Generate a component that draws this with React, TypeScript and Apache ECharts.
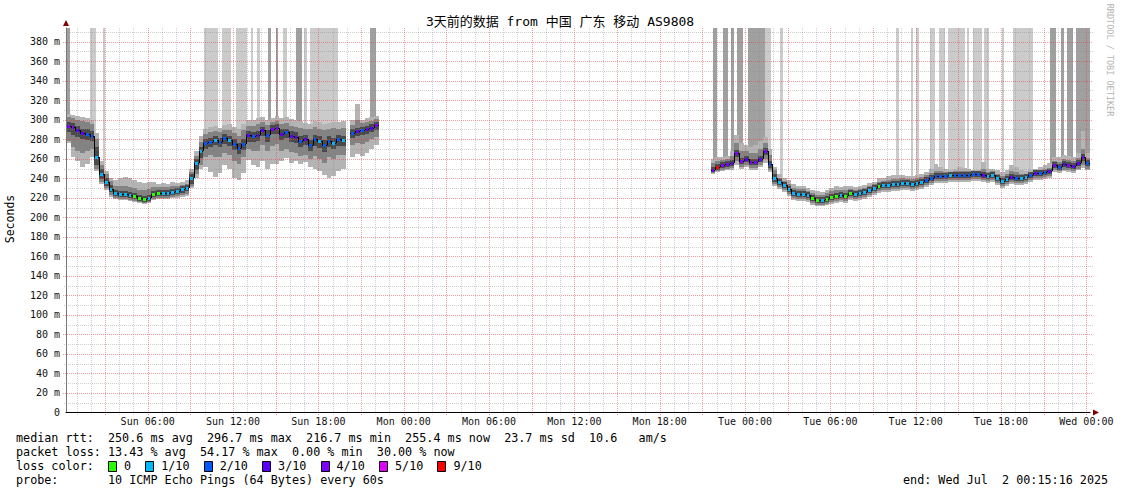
import React, { useEffect, useRef } from "react";
import * as echarts from "echarts";

// ---------- time base: hours since Sun 00:00 ----------
const START_HOUR = 0.2544; // Sun 00:15:16
const END_HOUR = 72.2544; // Wed 00:15:16
const BIN_HOURS = 1 / 3; // 20-minute consolidation step
const Y_MAX = 394;

// ---------- texts ----------
const title = "3天前的数据 from 中国 广东 移动 AS9808";
const yAxisName = "Seconds";
const watermark = "RRDTOOL / TOBI OETIKER";
const dayNames = ["Sun", "Mon", "Tue", "Wed"];
const xLabelHours = [6, 12, 18, 24, 30, 36, 42, 48, 54, 60, 66, 72];
const yLabelValues = [0, 20, 40, 60, 80, 100, 120, 140, 160, 180, 200, 220, 240, 260, 280, 300, 320, 340, 360, 380];
const statsRtt = "median rtt:  250.6 ms avg  296.7 ms max  216.7 ms min  255.4 ms now  23.7 ms sd  10.6   am/s";
const statsLoss = "packet loss: 13.43 % avg  54.17 % max  0.00 % min  30.00 % now";
const lossLegendTitle = "loss color:";
const lossLegendLabels = ["0", "1/10", "2/10", "3/10", "4/10", "5/10", "9/10"];
const lossLegendColors = ["#26ff00", "#00b8ff", "#0059ff", "#5e00ff", "#7e00ff", "#dd00ff", "#ff0000"];
const probeText = "probe:       10 ICMP Echo Pings (64 Bytes) every 60s";
const endText = "end: Wed Jul  2 00:15:16 2025";

// ---------- segment 1 (bins 0..65, Sun 00:15 - Sun 22:15) ----------
const seg1First = 0;
const med1 = [294,293,289,286,285,283,262,244,236,229,
  225,224,224,223,222,220,219,220,224,225,
  225,225,226,227,229,230,240,256,268,276,
  277,279,277,281,279,275,271,275,284,283,
  284,289,284,291,292,285,287,283,282,278,
  280,274,280,278,274,278,276,280,279,null,
  286,288,289,290,292,295];
const loss1 = [4,4,3,3,2,2,1,1,1,1,
  1,1,1,1,0,0,0,1,0,0,
  1,1,1,1,1,1,1,1,1,2,
  2,1,2,2,1,2,2,2,3,2,
  3,3,2,4,4,3,2,3,3,2,
  3,2,2,1,2,2,1,2,1,null,
  2,3,2,3,3,4];
const outerHi1 = [306,305,304,303,302,300,286,258,247,240,
  238,240,241,240,238,236,235,236,236,234,
  235,234,236,235,236,238,250,268,283,291,
  293,294,292,295,296,293,290,296,300,300,
  302,303,300,302,304,302,303,301,300,299,
  297,296,299,298,296,297,298,298,299,null,
  300,316,300,302,303,304];
const midHi1 = [303,302,300,299,298,296,280,254,244,237,
  232,232,232,231,230,228,228,229,231,231,
  231,231,232,232,233,234,246,263,277,285,
  287,288,287,289,289,286,283,289,294,294,
  296,298,295,298,299,296,297,294,293,292,
  290,290,293,291,289,291,292,291,292,null,
  295,300,297,298,299,301];
const coreHi1 = [298,297,294,291,290,288,272,250,240,233,
  228,227,227,226,225,223,222,223,227,228,
  228,228,229,230,232,233,244,260,272,280,
  281,283,281,285,283,280,276,280,288,287,
  288,293,289,295,296,290,291,288,287,283,
  284,279,284,283,279,283,281,284,283,null,
  290,292,293,294,296,298];
const coreLo1 = [287,284,282,280,279,278,254,239,232,226,
  222,221,221,220,219,217,216,217,221,222,
  222,222,223,224,225,227,234,249,261,270,
  272,274,272,275,273,269,265,269,277,277,
  278,283,277,285,285,279,281,277,276,272,
  274,268,273,271,267,272,270,273,273,null,
  281,283,284,285,287,289];
const midLo1 = [278,272,268,266,268,270,250,236,230,223,
  220,219,219,218,217,216,215,216,219,220,
  220,220,221,222,223,224,232,244,254,262,
  264,262,262,266,264,258,255,262,270,268,
  268,274,268,273,275,268,270,267,266,263,
  264,260,263,260,256,262,260,264,264,null,
  274,276,275,277,280,282];
const outerLo1 = [276,262,258,252,255,262,247,234,228,221,
  219,218,218,217,216,215,214,215,218,219,
  219,219,220,220,221,222,230,240,250,252,
  246,241,245,254,250,240,238,245,259,254,
  252,258,250,255,255,258,261,256,258,255,
  257,252,250,247,243,240,242,247,250,null,
  262,265,263,266,270,274];

// ---------- segment 2 (bins 136..215, Mon 21:35 - Wed 00:15) ----------
const seg2First = 136;
const med2 = [249,252,254,255,256,266,258,260,257,257,
  260,268,255,240,236,233,229,225,224,224,
  223,220,218,218,219,221,222,223,222,225,
  224,225,226,228,230,232,233,233,234,234,
  235,235,234,235,236,238,240,242,242,242,
  243,243,243,243,243,244,244,243,242,243,
  240,237,239,241,240,240,241,243,245,245,
  246,247,254,252,255,254,253,256,262,256];
const loss2 = [4,9,4,4,3,4,4,3,4,4,
  3,4,2,1,1,1,1,1,1,1,
  1,0,0,1,0,0,0,1,0,0,
  1,1,1,1,1,0,1,1,1,1,
  1,1,1,1,1,2,2,2,2,2,
  1,2,2,2,2,2,2,3,1,1,
  1,1,1,3,2,1,1,2,3,2,
  2,3,4,2,3,4,3,3,4,2];
const outerHi2 = [260,262,262,263,268,284,276,274,272,274,
  278,282,270,252,244,240,238,234,232,232,
  230,228,227,226,228,230,232,231,232,232,
  231,232,233,235,236,240,240,242,243,243,
  243,242,242,243,244,246,250,255,252,250,
  249,250,252,251,250,249,249,257,250,250,
  248,246,249,254,252,248,247,249,250,252,
  254,256,262,262,264,263,262,266,288,266];
const midHi2 = [256,258,259,260,263,276,268,268,266,266,
  270,276,264,248,240,237,234,230,229,229,
  227,225,223,223,225,227,228,228,228,229,
  228,229,230,232,234,236,237,238,239,239,
  240,239,239,240,241,243,245,247,247,246,
  246,247,247,247,247,247,247,250,246,247,
  244,242,244,247,246,244,244,246,248,249,
  250,251,258,257,260,259,258,261,270,261];
const coreHi2 = [252,255,257,258,259,269,261,263,260,260,
  263,271,258,244,239,236,232,228,227,227,
  226,223,221,221,222,224,225,226,225,228,
  227,228,229,231,233,235,236,236,237,237,
  238,238,237,238,239,241,243,245,245,245,
  246,246,246,246,246,247,247,246,245,246,
  243,240,242,244,243,243,244,246,248,248,
  249,250,257,255,258,257,256,259,265,259];
const coreLo2 = [246,249,251,252,253,262,255,257,254,254,
  257,264,251,236,233,230,226,222,221,221,
  220,217,215,215,216,218,219,220,219,222,
  221,222,223,225,227,229,230,230,231,231,
  232,232,231,232,233,235,237,239,239,239,
  240,240,240,240,240,241,241,240,239,240,
  237,234,236,238,237,237,238,240,242,242,
  243,244,251,249,252,251,250,253,258,253];
const midLo2 = [245,247,249,250,251,258,252,254,251,251,
  254,260,248,234,231,228,224,220,219,219,
  218,215,213,213,214,216,217,218,217,220,
  219,220,221,223,225,227,228,228,229,229,
  230,230,229,230,231,233,235,237,237,237,
  238,238,238,238,238,239,239,238,237,238,
  235,232,234,236,235,235,236,238,240,240,
  241,242,248,247,249,248,247,250,254,250];
const outerLo2 = [244,246,247,248,249,254,250,252,249,249,
  252,256,246,232,229,226,222,218,217,217,
  216,213,212,212,213,214,215,216,215,218,
  217,218,219,221,223,225,226,226,227,227,
  228,228,227,228,229,231,233,235,235,235,
  236,236,236,236,236,237,237,236,235,236,
  233,230,232,234,233,233,234,236,238,238,
  239,240,246,245,247,246,245,248,251,248];

// ---------- smoke reaching the top of the graph: [start hour, end hour] ----------
const spikesLight = [[1.94,2.36],[2.85,3.03],[9.96,10.94],[11.22,11.86],[12.21,12.98],[13.26,13.40],[13.68,13.89],
  [15.51,15.79],[16.99,17.20],[17.41,19.38],[49.41,49.83],[50.45,50.67],[58.61,58.82],[59.67,59.81],
  [60.02,60.23],[61.00,61.35],[61.64,62.06],[62.27,63.46],[63.60,63.74],[64.02,64.66],[64.80,65.15],
  [66.06,66.20],[66.84,68.25]];
const spikesDark = [[0.25,0.54],[14.46,14.67],[15.02,15.16],[16.42,16.85],[21.63,22.05],[45.74,46.02],
  [46.45,46.80],[47.01,47.22],[47.43,47.86],[48.21,49.41],[69.44,69.86],[70.21,70.42],[70.63,71.05],
  [71.27,72.25]];

// ---------- styles ----------
const MONO = "'DejaVu Sans Mono', monospace";
const TITLE_FONT = "'DejaVu Sans Mono', 'Noto Sans CJK SC', monospace";
const SMOKE_OUTER = "#b4b4b4";
const SMOKE_MID = "#838383";
const SMOKE_CORE = "#4a4a4a";
const SPIKE_LIGHT = "#cbcbcb";
const SPIKE_DARK = "#a0a0a0";
const GRID_MINOR = "rgba(140,140,140,0.42)";
const GRID_MAJOR = "rgba(235,60,60,0.5)";

function lossColor(l: number): string {
  if (l >= 9) return "#ff0000";
  if (l >= 5) return "#dd00ff";
  return ["#26ff00", "#00b8ff", "#0059ff", "#5e00ff", "#7e00ff"][l];
}

function fmtHour(v: number): string {
  const h = Math.round(v);
  const day = Math.floor(h / 24);
  const hh = h % 24;
  return `${dayNames[day]} ${hh < 10 ? "0" + hh : hh}:00`;
}

type Seg = {
  first: number; med: (number | null)[]; loss: (number | null)[];
  oLo: (number | null)[]; oHi: (number | null)[]; mLo: (number | null)[]; mHi: (number | null)[];
  cLo: (number | null)[]; cHi: (number | null)[];
};
const segments: Seg[] = [
  { first: seg1First, med: med1, loss: loss1, oLo: outerLo1, oHi: outerHi1, mLo: midLo1, mHi: midHi1, cLo: coreLo1, cHi: coreHi1 },
  { first: seg2First, med: med2, loss: loss2, oLo: outerLo2, oHi: outerHi2, mLo: midLo2, mHi: midHi2, cLo: coreLo2, cHi: coreHi2 },
];

function buildData() {
  const smoke: number[][] = [];
  const median: number[][] = [];
  for (const s of segments) {
    s.med.forEach((m, i) => {
      if (m == null) return;
      const x0 = START_HOUR + (s.first + i) * BIN_HOURS;
      const x1 = x0 + BIN_HOURS;
      smoke.push([x0, x1, s.oLo[i] as number, s.oHi[i] as number, s.mLo[i] as number, s.mHi[i] as number, s.cLo[i] as number, s.cHi[i] as number]);
      const prev = i > 0 && s.med[i - 1] != null ? (s.med[i - 1] as number) : -1;
      median.push([x0, x1, m, prev, s.loss[i] as number]);
    });
  }
  const spikes: number[][] = [];
  const addSpikes = (list: number[][], shade: number) => {
    for (const [a, b] of list) {
      let bottom = Y_MAX;
      for (const r of smoke) if (r[0] < b && r[1] > a) bottom = Math.min(bottom, r[3] - 1);
      spikes.push([a, b, bottom, shade]);
    }
  };
  addSpikes(spikesLight, 0);
  addSpikes(spikesDark, 1);
  return { smoke, median, spikes };
}

function monoTexts(line: string, x: number, y: number, size: number, color = "#000"): any[] {
  const cw = size * 0.6021;
  const out: any[] = [];
  const re = /\S+(?: \S+)*/g;
  let m: RegExpExecArray | null;
  while ((m = re.exec(line))) {
    out.push({
      type: "text", x: x + m.index * cw, y, silent: true,
      style: { text: m[0], fontSize: size, fontFamily: MONO, fill: color, align: "left", verticalAlign: "middle", textAlign: "left", textVerticalAlign: "middle" },
    });
  }
  return out;
}

function buildOption() {
  const { smoke, median, spikes } = buildData();
  const FS = 11.75;
  const CW = FS * 0.6021;

  const graphic: any[] = [];
  graphic.push({
    type: "text", x: 560, y: 21, silent: true,
    style: { text: title, fontSize: 13, fontFamily: TITLE_FONT, fill: "#000", align: "center", verticalAlign: "middle", textAlign: "center", textVerticalAlign: "middle" },
  });
  graphic.push({
    type: "text", x: 10, y: 219, rotation: Math.PI / 2, silent: true,
    style: { text: yAxisName, fontSize: 11.5, fontFamily: MONO, fill: "#000", align: "center", verticalAlign: "middle", textAlign: "center", textVerticalAlign: "middle" },
  });
  graphic.push({
    type: "text", x: 1110, y: 60, rotation: -Math.PI / 2, silent: true,
    style: { text: watermark, fontSize: 8.5, fontFamily: MONO, fill: "#b4b4b4", align: "center", verticalAlign: "middle", textAlign: "center", textVerticalAlign: "middle" },
  });
  // axis arrows
  graphic.push({ type: "polygon", silent: true, shape: { points: [[63, 26], [69, 26], [66, 20]] }, style: { fill: "#800000" } });
  graphic.push({ type: "polygon", silent: true, shape: { points: [[1093, 409.5], [1093, 415.5], [1099, 412.5]] }, style: { fill: "#800000" } });
  // stats lines
  graphic.push(...monoTexts(statsRtt, 16, 438, FS));
  graphic.push(...monoTexts(statsLoss, 16, 452, FS));
  graphic.push(...monoTexts(lossLegendTitle, 16, 466, FS));
  let lx = 16 + 13 * CW;
  lossLegendLabels.forEach((lab, i) => {
    graphic.push({ type: "rect", silent: true, shape: { x: Math.round(lx) + 0.5, y: 461.5, width: 8, height: 10 }, style: { fill: lossLegendColors[i], stroke: "#000", lineWidth: 1 } });
    graphic.push(...monoTexts(lab, lx + 16, 466, FS));
    lx = lx + 16 + lab.length * CW + 2 * CW;
  });
  graphic.push(...monoTexts(probeText, 16, 480, FS));
  graphic.push(...monoTexts(endText, 903, 480, FS));

  const minorHours: number[] = [];
  const majorHours: number[] = [];
  for (let h = 1; h <= 72; h++) (h % 3 === 0 ? majorHours : minorHours).push(h);
  const minorVals: number[] = [];
  const majorVals: number[] = [];
  for (let v = 10; v <= 390; v += 10) (v % 20 === 0 ? majorVals : minorVals).push(v);

  return {
    animation: false,
    backgroundColor: "#ffffff",
    tooltip: { show: false },
    grid: { left: 66, right: 31, top: 28, bottom: 81.5, containLabel: false },
    xAxis: {
      type: "value", min: START_HOUR, max: END_HOUR, z: 10,
      splitLine: { show: false },
      axisLine: { show: true, onZero: false, lineStyle: { color: "#000", width: 1 } },
      axisTick: { show: false },
      axisLabel: { customValues: xLabelHours, formatter: fmtHour, color: "#111", fontFamily: MONO, fontSize: 10, margin: 4 },
    },
    yAxis: {
      type: "value", min: 0, max: Y_MAX, interval: 20, z: 10,
      splitLine: { show: false },
      axisLine: { show: true, lineStyle: { color: "#777", width: 1 } },
      axisTick: { show: false },
      axisLabel: {
        customValues: yLabelValues, margin: 6, color: "#111", fontFamily: MONO, fontSize: 10,
        formatter: (v: number) => (v === 0 ? "0" : v % 20 === 0 && v <= 380 ? `${v} m` : ""),
      },
    },
    series: [
      {
        type: "custom", name: "spikes", z: 1, silent: true, clip: true,
        data: spikes, encode: { x: [0, 1], y: [2] },
        renderItem: (_p: any, api: any) => {
          const p0 = api.coord([api.value(0), Y_MAX]);
          const p1 = api.coord([api.value(1), api.value(2)]);
          const xa = Math.round(p0[0]);
          const xb = Math.round(p1[0]);
          const ya = Math.round(p0[1]);
          const yb = Math.round(p1[1]);
          return { type: "rect", shape: { x: xa, y: ya, width: Math.max(1, xb - xa), height: yb - ya }, style: { fill: api.value(3) ? SPIKE_DARK : SPIKE_LIGHT } };
        },
      },
      {
        type: "custom", name: "smoke", z: 2, silent: true, clip: true,
        data: smoke, encode: { x: [0, 1], y: [2, 3] },
        renderItem: (_p: any, api: any) => {
          const xa = Math.round(api.coord([api.value(0), 0])[0]);
          const xb = Math.round(api.coord([api.value(1), 0])[0]);
          const band = (lo: number, hi: number, color: string) => {
            const ya = Math.round(api.coord([api.value(0), hi])[1]);
            const yb = Math.round(api.coord([api.value(0), lo])[1]);
            return { type: "rect", shape: { x: xa, y: ya, width: xb - xa, height: Math.max(1, yb - ya) }, style: { fill: color } };
          };
          return {
            type: "group",
            children: [
              band(api.value(2), api.value(3), SMOKE_OUTER),
              band(api.value(4), api.value(5), SMOKE_MID),
              band(api.value(6), api.value(7), SMOKE_CORE),
            ],
          };
        },
      },
      {
        type: "custom", name: "grid", z: 3, silent: true, clip: false,
        data: [[START_HOUR, 0]], encode: { x: 0, y: 1 },
        renderItem: (_p: any, api: any) => {
          const children: any[] = [];
          const top = api.coord([START_HOUR, Y_MAX])[1];
          const bottom = api.coord([START_HOUR, 0])[1];
          const left = api.coord([START_HOUR, 0])[0];
          const right = api.coord([END_HOUR, 0])[0];
          const vline = (h: number, color: string, ext: number) => {
            const x = Math.round(api.coord([h, 0])[0]) + 0.5;
            children.push({ type: "line", shape: { x1: x, y1: top, x2: x, y2: bottom + ext }, style: { stroke: color, lineWidth: 1, lineDash: [1, 1] } });
          };
          const hline = (v: number, color: string, ext: number) => {
            const y = Math.round(api.coord([START_HOUR, v])[1]) + 0.5;
            children.push({ type: "line", shape: { x1: left - ext, y1: y, x2: right + 3, y2: y }, style: { stroke: color, lineWidth: 1, lineDash: [1, 1] } });
          };
          minorVals.forEach((v) => hline(v, GRID_MINOR, 2));
          minorHours.forEach((h) => vline(h, GRID_MINOR, 2));
          majorVals.forEach((v) => hline(v, GRID_MAJOR, 3));
          majorHours.forEach((h) => vline(h, GRID_MAJOR, 3));
          return { type: "group", children };
        },
      },
      {
        type: "custom", name: "median", z: 4, silent: true, clip: true,
        data: median, encode: { x: [0, 1], y: [2] },
        renderItem: (_p: any, api: any) => {
          const xa = Math.round(api.coord([api.value(0), 0])[0]);
          const xb = Math.round(api.coord([api.value(1), 0])[0]);
          const y = Math.round(api.coord([api.value(0), api.value(2)])[1]);
          const children: any[] = [];
          const prev = api.value(3);
          if (prev > 0) {
            const yp = Math.round(api.coord([api.value(0), prev])[1]);
            children.push({ type: "line", shape: { x1: xa + 0.5, y1: yp, x2: xa + 0.5, y2: y }, style: { stroke: "#000", lineWidth: 1 } });
          }
          children.push({ type: "line", shape: { x1: xa, y1: y + 0.5, x2: xb, y2: y + 0.5 }, style: { stroke: "#000", lineWidth: 1 } });
          children.push({ type: "rect", shape: { x: xa + 1, y: y - 1, width: Math.max(2, xb - xa - 2), height: 3 }, style: { fill: lossColor(api.value(4)) } });
          return { type: "group", children };
        },
      },
    ],
    graphic,
  };
}

export default function App() {
  const ref = useRef<HTMLDivElement>(null);
  useEffect(() => {
    document.body.style.margin = "0";
    if (!ref.current) return;
    const chart = echarts.init(ref.current, null, { renderer: "svg" });
    chart.setOption(buildOption() as any);
    return () => chart.dispose();
  }, []);
  return (
    <div
      ref={ref}
      style={{ position: "relative", width: 1121, height: 494, background: "#ffffff" }}
    />
  );
}
